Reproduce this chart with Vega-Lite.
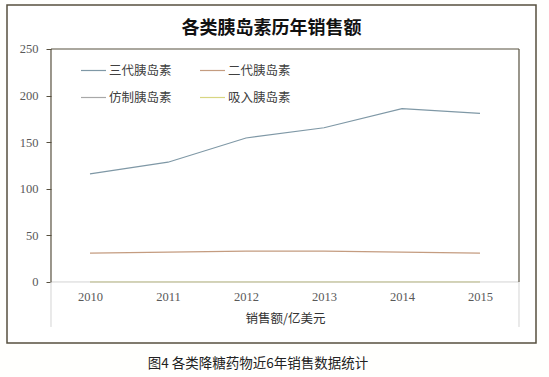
{
  "$schema": "https://vega.github.io/schema/vega-lite/v6.json",
  "width": 529,
  "height": 338,
  "autosize": {"type": "none"},
  "padding": {"left": 7, "top": 5, "right": 13, "bottom": 34},
  "background": "#fffffd",
  "title": {
    "text": "各类胰岛素历年销售额",
    "offset": -33,
    "font": "Noto Sans CJK SC",
    "fontSize": 18,
    "fontWeight": "bold",
    "color": "#111111",
    "anchor": "middle",
    "frame": "group"
  },
  "config": {
    "view": {"stroke": "#57503f", "strokeWidth": 1.5, "fill": "#ffffff"},
    "axis": {
      "labelFont": "Liberation Serif",
      "labelFontSize": 12.5,
      "labelColor": "#595959",
      "titleFont": "Noto Sans CJK SC",
      "titleFontSize": 12.5,
      "titleFontWeight": "normal",
      "titleColor": "#333333",
      "grid": false,
      "domain": false
    },
    "legend": {
      "orient": "none",
      "direction": "horizontal",
      "legendX": 73,
      "legendY": 52,
      "columns": 2,
      "padding": 0,
      "symbolType": "stroke",
      "symbolSize": 625,
      "symbolStrokeWidth": 1.2,
      "labelFont": "Noto Sans CJK SC",
      "labelFontSize": 12.5,
      "labelColor": "#404040",
      "labelOffset": 2,
      "columnPadding": 25,
      "rowPadding": 7
    }
  },
  "datasets": {
    "sales": [
      {"year": 2010, "series": "三代胰岛素", "value": 116},
      {"year": 2011, "series": "三代胰岛素", "value": 128.5},
      {"year": 2012, "series": "三代胰岛素", "value": 154.5},
      {"year": 2013, "series": "三代胰岛素", "value": 165.5},
      {"year": 2014, "series": "三代胰岛素", "value": 186},
      {"year": 2015, "series": "三代胰岛素", "value": 181},
      {"year": 2010, "series": "二代胰岛素", "value": 31},
      {"year": 2011, "series": "二代胰岛素", "value": 32},
      {"year": 2012, "series": "二代胰岛素", "value": 33},
      {"year": 2013, "series": "二代胰岛素", "value": 33},
      {"year": 2014, "series": "二代胰岛素", "value": 32},
      {"year": 2015, "series": "二代胰岛素", "value": 31},
      {"year": 2010, "series": "仿制胰岛素", "value": 0},
      {"year": 2011, "series": "仿制胰岛素", "value": 0},
      {"year": 2012, "series": "仿制胰岛素", "value": 0},
      {"year": 2013, "series": "仿制胰岛素", "value": 0},
      {"year": 2014, "series": "仿制胰岛素", "value": 0},
      {"year": 2015, "series": "仿制胰岛素", "value": 0},
      {"year": 2010, "series": "吸入胰岛素", "value": 0},
      {"year": 2011, "series": "吸入胰岛素", "value": 0},
      {"year": 2012, "series": "吸入胰岛素", "value": 0},
      {"year": 2013, "series": "吸入胰岛素", "value": 0},
      {"year": 2014, "series": "吸入胰岛素", "value": 0},
      {"year": 2015, "series": "吸入胰岛素", "value": 0}
    ],
    "one": [{}]
  },
  "layer": [
    {
      "data": {"name": "sales"},
      "mark": {"type": "line", "strokeWidth": 1.2},
      "encoding": {
        "x": {
          "field": "year",
          "type": "quantitative",
          "scale": {"domain": [2008.936, 2015.718], "nice": false, "zero": false},
          "axis": {
            "orient": "bottom",
            "offset": -61,
            "values": [2010, 2011, 2012, 2013, 2014, 2015],
            "format": "d",
            "ticks": false,
            "tickSize": 0,
            "labelPadding": 8,
            "title": "销售额/亿美元",
            "titleX": 278,
            "titleY": 36,
            "titleBaseline": "middle"
          }
        },
        "y": {
          "field": "value",
          "type": "quantitative",
          "scale": {"domain": [-65.5, 297.2], "nice": false, "zero": false},
          "axis": {
            "orient": "left",
            "offset": -44,
            "values": [0, 50, 100, 150, 200, 250],
            "ticks": true,
            "tickSize": 5,
            "tickColor": "#57503f",
            "labelPadding": 8,
            "title": null
          }
        },
        "color": {
          "field": "series",
          "type": "nominal",
          "sort": ["三代胰岛素", "二代胰岛素", "仿制胰岛素", "吸入胰岛素"],
          "scale": {
            "domain": ["三代胰岛素", "二代胰岛素", "仿制胰岛素", "吸入胰岛素"],
            "range": ["#7f98a6", "#c49c80", "#a8a8a8", "#d8d682"]
          },
          "legend": {"title": null}
        }
      }
    },
    {
      "data": {"name": "one"},
      "mark": {"type": "rule", "color": "#d4d4d4", "strokeWidth": 1},
      "encoding": {
        "x": {"datum": 2009.5, "type": "quantitative"},
        "x2": {"datum": 2015.5},
        "y": {"datum": 0, "type": "quantitative"}
      }
    },
    {
      "data": {"name": "one"},
      "mark": {"type": "rule", "color": "#d4d4d4", "strokeWidth": 1},
      "encoding": {
        "x": {"datum": 2009.5, "type": "quantitative"},
        "y": {"datum": -48.3, "type": "quantitative"},
        "y2": {"datum": 0}
      }
    },
    {
      "data": {"name": "one"},
      "mark": {"type": "rule", "color": "#d4d4d4", "strokeWidth": 1},
      "encoding": {
        "x": {"datum": 2015.5, "type": "quantitative"},
        "y": {"datum": -48.3, "type": "quantitative"},
        "y2": {"datum": 0}
      }
    },
    {
      "data": {"name": "one"},
      "mark": {"type": "rule", "color": "#57503f", "strokeWidth": 1.2},
      "encoding": {
        "x": {"datum": 2009.5, "type": "quantitative"},
        "y": {"datum": 0, "type": "quantitative"},
        "y2": {"datum": 250}
      }
    },
    {
      "data": {"name": "one"},
      "mark": {"type": "rule", "color": "#57503f", "strokeWidth": 1.2},
      "encoding": {
        "x": {"datum": 2015.5, "type": "quantitative"},
        "y": {"datum": 0, "type": "quantitative"},
        "y2": {"datum": 250}
      }
    },
    {
      "data": {"name": "one"},
      "mark": {"type": "rule", "color": "#57503f", "strokeWidth": 1.2},
      "encoding": {
        "x": {"datum": 2009.5, "type": "quantitative"},
        "x2": {"datum": 2015.5},
        "y": {"datum": 250, "type": "quantitative"}
      }
    },
    {
      "data": {"name": "one"},
      "mark": {
        "type": "text",
        "align": "center",
        "baseline": "middle",
        "font": "Noto Sans CJK SC",
        "fontSize": 13.5,
        "color": "#222222"
      },
      "encoding": {
        "x": {"datum": 2012.154, "type": "quantitative"},
        "y": {"datum": -88, "type": "quantitative"},
        "text": {"value": "图4 各类降糖药物近6年销售数据统计"}
      }
    }
  ]
}
